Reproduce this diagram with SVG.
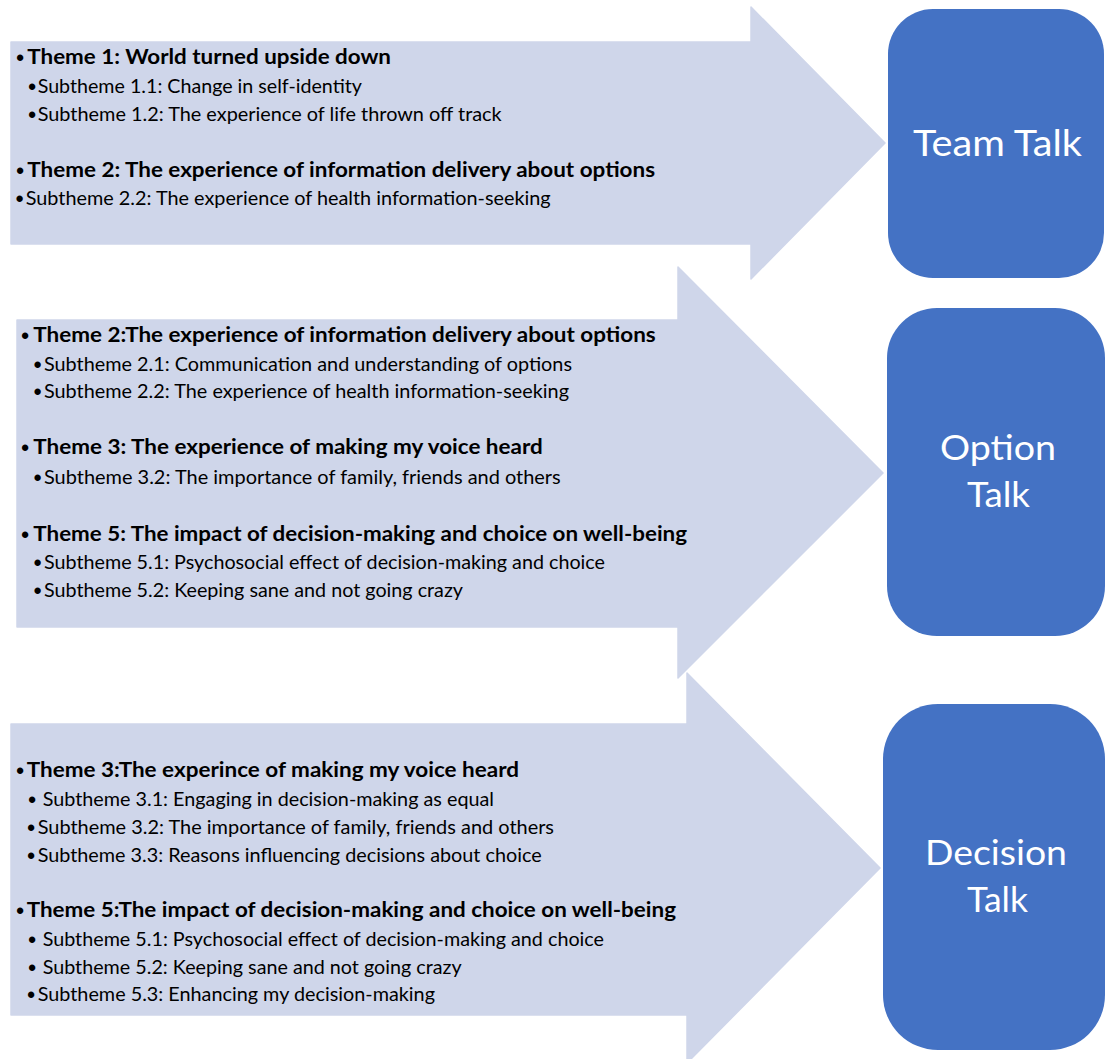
<svg xmlns="http://www.w3.org/2000/svg" width="1105" height="1059" viewBox="0 0 1105 1059">
<style>
.arrow{fill:#CFD6EA;stroke:#CFD6EA;stroke-width:1.5;stroke-linejoin:round}
.box{fill:#4472C4}
.b{font-family:Lato,"Liberation Sans",sans-serif;font-weight:bold;font-size:21px;fill:#000}
.r{font-family:Lato,"Liberation Sans",sans-serif;font-size:19px;fill:#000}
.bul{font-family:"Liberation Sans",sans-serif;font-size:22px;font-weight:bold;fill:#000;text-anchor:middle}
.lbl{font-family:Lato,"Liberation Sans",sans-serif;fill:#fff;text-anchor:middle}
</style>
<rect width="1105" height="1059" fill="#fff"/>
<g id="connectors">
<path class="arrow" d="M11,42 H751 V7 L885,143 L751,279 V244 H11 Z"/>
<path class="arrow" d="M17,320 H678 V267 L883,473 L678,678 V627 H17 Z"/>
<path class="arrow" d="M11,724 H687 V673 L880,868 L687,1063 V1015 H11 Z"/>
</g>
<g id="themes-team">
<text class="bul" x="20" y="65">•</text><text class="b" x="27.3" y="64" textLength="363.7" lengthAdjust="spacingAndGlyphs">Theme 1: World turned upside down</text>
<text class="bul" x="32" y="93.7">•</text><text class="r" x="37.7" y="92.7" textLength="324.3" lengthAdjust="spacingAndGlyphs">Subtheme 1.1: Change in self-identity</text>
<text class="bul" x="32" y="121.7">•</text><text class="r" x="37.7" y="120.7" textLength="464" lengthAdjust="spacingAndGlyphs">Subtheme 1.2: The experience of life thrown off track</text>
<text class="bul" x="20" y="177.7">•</text><text class="b" x="27.3" y="176.7" textLength="627.7" lengthAdjust="spacingAndGlyphs">Theme 2: The experience of information delivery about options</text>
<text class="bul" x="19.5" y="206">•</text><text class="r" x="25.7" y="205" textLength="525" lengthAdjust="spacingAndGlyphs">Subtheme 2.2: The experience of health information-seeking</text>
</g>
<g id="themes-option">
<text class="bul" x="25" y="342.7">•</text><text class="b" x="33.3" y="341.7" textLength="622.4" lengthAdjust="spacingAndGlyphs">Theme 2:The experience of information delivery about options</text>
<text class="bul" x="37.5" y="372">•</text><text class="r" x="44" y="371" textLength="528" lengthAdjust="spacingAndGlyphs">Subtheme 2.1: Communication and understanding of options</text>
<text class="bul" x="37.5" y="398.7">•</text><text class="r" x="44" y="397.7" textLength="525" lengthAdjust="spacingAndGlyphs">Subtheme 2.2: The experience of health information-seeking</text>
<text class="bul" x="25" y="455.3">•</text><text class="b" x="33.3" y="454.3" textLength="509.4" lengthAdjust="spacingAndGlyphs">Theme 3: The experience of making my voice heard</text>
<text class="bul" x="37.5" y="485.3">•</text><text class="r" x="44" y="484.3" textLength="516.7" lengthAdjust="spacingAndGlyphs">Subtheme 3.2: The importance of family, friends and others</text>
<text class="bul" x="25" y="542">•</text><text class="b" x="33.3" y="541" textLength="653.7" lengthAdjust="spacingAndGlyphs">Theme 5: The impact of decision-making and choice on well-being</text>
<text class="bul" x="37.5" y="570.3">•</text><text class="r" x="44" y="569.3" textLength="561" lengthAdjust="spacingAndGlyphs">Subtheme 5.1: Psychosocial effect of decision-making and choice</text>
<text class="bul" x="37.5" y="598.3">•</text><text class="r" x="44" y="597.3" textLength="419" lengthAdjust="spacingAndGlyphs">Subtheme 5.2: Keeping sane and not going crazy</text>
</g>
<g id="themes-decision">
<text class="bul" x="20" y="778.3">•</text><text class="b" x="26.7" y="777.3" textLength="492.3" lengthAdjust="spacingAndGlyphs">Theme 3:The experince of making my voice heard</text>
<text class="bul" x="32" y="807">•</text><text class="r" x="42.7" y="806" textLength="451.3" lengthAdjust="spacingAndGlyphs">Subtheme 3.1: Engaging in decision-making as equal</text>
<text class="bul" x="31" y="835">•</text><text class="r" x="37.7" y="834" textLength="516.3" lengthAdjust="spacingAndGlyphs">Subtheme 3.2: The importance of family, friends and others</text>
<text class="bul" x="31" y="862.7">•</text><text class="r" x="37.7" y="861.7" textLength="504" lengthAdjust="spacingAndGlyphs">Subtheme 3.3: Reasons influencing decisions about choice</text>
<text class="bul" x="20" y="918.3">•</text><text class="b" x="26.7" y="917.3" textLength="649.3" lengthAdjust="spacingAndGlyphs">Theme 5:The impact of decision-making and choice on well-being</text>
<text class="bul" x="32" y="947">•</text><text class="r" x="42.7" y="946" textLength="561.3" lengthAdjust="spacingAndGlyphs">Subtheme 5.1: Psychosocial effect of decision-making and choice</text>
<text class="bul" x="32" y="975">•</text><text class="r" x="42.7" y="974" textLength="419" lengthAdjust="spacingAndGlyphs">Subtheme 5.2: Keeping sane and not going crazy</text>
<text class="bul" x="31" y="1001.7">•</text><text class="r" x="37.7" y="1000.7" textLength="397.3" lengthAdjust="spacingAndGlyphs">Subtheme 5.3: Enhancing my decision-making</text>
</g>
<g id="team-talk">
<rect class="box" x="888" y="9" width="216" height="269" rx="45" ry="45"/>
<text class="lbl" x="997.5" y="155.7" font-size="36" textLength="169" lengthAdjust="spacingAndGlyphs">Team Talk</text>
</g>
<g id="option-talk">
<rect class="box" x="887" y="308" width="218" height="328" rx="50" ry="50"/>
<text class="lbl" x="998" y="460" font-size="35" textLength="116" lengthAdjust="spacingAndGlyphs">Option</text>
<text class="lbl" x="998.5" y="507.3" font-size="35" textLength="63" lengthAdjust="spacingAndGlyphs">Talk</text>
</g>
<g id="decision-talk">
<rect class="box" x="883" y="704" width="222" height="346" rx="55" ry="55"/>
<text class="lbl" x="996" y="865" font-size="35" textLength="142" lengthAdjust="spacingAndGlyphs">Decision</text>
<text class="lbl" x="997.5" y="912.3" font-size="35" textLength="61" lengthAdjust="spacingAndGlyphs">Talk</text>
</g>
</svg>
